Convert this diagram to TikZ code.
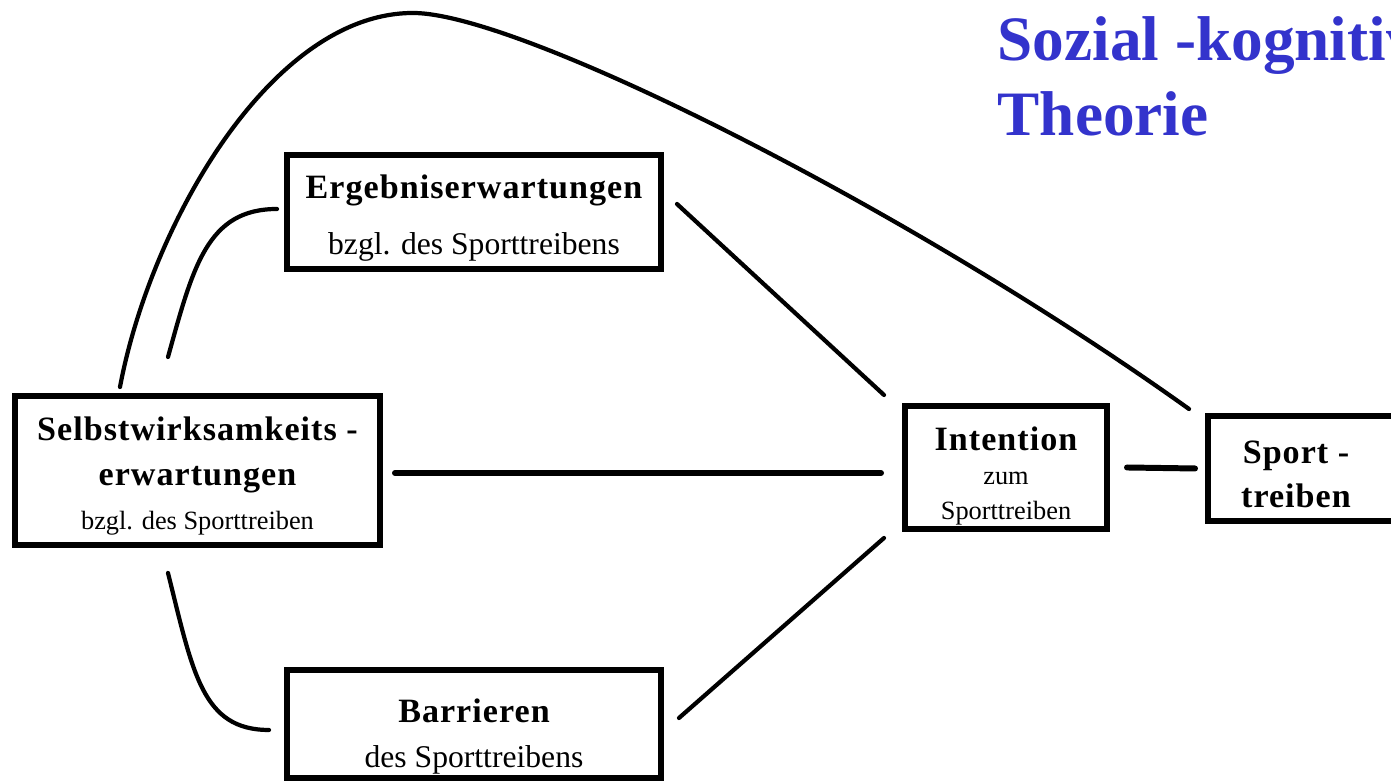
\documentclass[tikz,border=0pt]{standalone}
\usepackage{fontspec}
\setmainfont{Liberation Serif}
\newfontfamily\spacedfont{Liberation Serif}[LetterSpace=3.0]
\newcommand{\fsz}[2]{\fontsize{#1pt}{#2pt}\selectfont}
\newcommand{\hd}{\spacedfont\bfseries}
\newcommand{\lift}[1]{\rule{0pt}{#1}}
\definecolor{titleblue}{RGB}{51,51,204}

\begin{document}
\begin{tikzpicture}[
    box/.style={draw, line width=1.7pt, align=center, inner sep=0pt},
    boxtext/.style={align=center, inner sep=0pt},
    link/.style={line width=1.2pt, line cap=round},
    thicklink/.style={line width=1.7pt, line cap=round},
    title/.style={align=left, inner sep=0pt, color=titleblue,
        font=\fsz{18}{21.3}\bfseries}
]
% Frame
\useasboundingbox (0,0) rectangle (13.91,7.83);
\clip (0,0) rectangle (13.91,7.83);

% Title
\node[title, anchor=north west] (title) at (9.97,7.67) {Sozial -kognitive\\Theorie};

% Boxes
\node[box, minimum width=3.74cm, minimum height=1.14cm, font=\fsz{9}{16}] (erg) at (4.74,5.71)
    {{\fsz{9.7}{16}\hd\lift{10pt}Ergebniserwartungen}\\bzgl. des Sporttreibens};
\node[box, minimum width=3.65cm, minimum height=1.49cm, font=\fsz{7.5}{12.7}] (selbst) at (1.975,3.125)
    {{\fsz{9.7}{12.7}\hd\lift{10pt}Selbstwirksamkeits -}\\{\fsz{9.7}{12.7}\hd erwartungen}\\bzgl. des Sporttreiben};
\node[box, minimum width=3.74cm, minimum height=1.08cm, font=\fsz{9}{12.8}] (barr) at (4.74,0.59)
    {{\fsz{9.7}{12.8}\hd\lift{13.8pt}Barrieren}\\des Sporttreibens};
\node[box, minimum width=2.02cm, minimum height=1.23cm, font=\fsz{7.5}{9.8}] (intent) at (10.06,3.155)
    {{\fsz{9.7}{9.8}\hd\lift{11.5pt}Intention}\\zum\\Sporttreiben};
\node[box, minimum width=2.2cm, minimum height=1.05cm] (sport) at (13.18,3.145) {};
\node[boxtext, font=\fsz{9.7}{12.5}\hd] (sportlbl) at ([shift={(-0.22,-0.055)}]sport.center)
    {Sport -\\treiben};

% Connections
\draw[link] ([shift={(-0.775,0.06)}]selbst.north)
    .. controls +(0.30,1.60) and +(-1.43,0) .. (4.13,7.70) coordinate (arctop)
    .. controls +(1.07,0) and +(-2.8,2.0) .. ([shift={(-0.16,0.04)}]sport.north west);
\draw[link] ([shift={(-0.295,0.36)}]selbst.north)
    .. controls +(0.25,0.9) and +(-0.7,0) .. ([shift={(-0.07,0.03)}]erg.west);
\draw[link] ([shift={(-0.295,-0.25)}]selbst.south)
    .. controls +(0.25,-1.0) and +(-0.67,0) .. ([shift={(-0.15,-0.06)}]barr.west);
\draw[link] ([shift={(0.13,0.08)}]erg.east) -- ([shift={(-0.18,0.08)}]intent.north west);
\draw[thicklink] ([shift={(0.12,-0.025)}]selbst.east) -- ([shift={(-0.21,-0.055)}]intent.west);
\draw[link] ([shift={(0.15,0.06)}]barr.east) -- ([shift={(-0.18,-0.06)}]intent.south west);
\draw[thicklink] ([xshift=0.17cm]intent.east) -- ([xshift=-0.10cm]sport.west);

\end{tikzpicture}
\end{document}
